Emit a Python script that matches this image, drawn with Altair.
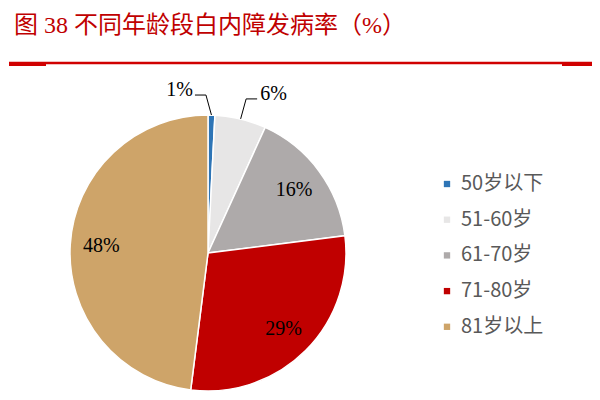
import altair as alt
import pandas as pd

title_text = "图 38 不同年龄段白内障发病率（%）"
categories = ["50岁以下", "51-60岁", "61-70岁", "71-80岁", "81岁以上"]
shares = [0.8, 6.0, 16.2, 29.0, 48.0]
pct_labels = ["1%", "6%", "16%", "29%", "48%"]
colors = ["#2E75B6", "#E7E6E6", "#AEAAAA", "#C00000", "#CEA469"]

W, H = 584, 384
CX, CY = 200, 245
R = 138
SERIF = "Liberation Serif"

df = pd.DataFrame({"cat": categories, "value": shares, "label": pct_labels,
                   "idx": list(range(len(categories)))})
tdf = pd.DataFrame({"t": [title_text]})

base = alt.Chart(df)
theta = alt.Theta("value:Q", stack=True)
order = alt.Order("idx:Q")

arcs = base.mark_arc(outerRadius=R, stroke="white", strokeWidth=1.5).encode(
    theta=theta,
    order=order,
    color=alt.Color(
        "cat:N", sort=categories,
        scale=alt.Scale(domain=categories, range=colors),
        legend=alt.Legend(title=None, orient="none", legendX=429, legendY=166,
                          symbolType="square", symbolSize=40, symbolStrokeWidth=0,
                          labelFont="Noto Sans CJK SC", labelFontSize=20,
                          labelColor="#595959", rowPadding=15.7, padding=0,
                          labelOffset=4),
    ),
    x=alt.value(CX), y=alt.value(CY),
)

inner = base.transform_joinaggregate(total="sum(value)").transform_calculate(
    inner_label="datum.value / datum.total >= 0.1 ? datum.label : ''"
).mark_text(radius=107, font=SERIF, fontSize=20, color="black").encode(
    theta=theta, order=order, text="inner_label:N",
    x=alt.value(CX), y=alt.value(CY),
)

geo = (base.transform_joinaggregate(total="sum(value)")
       .transform_window(cum="sum(value)", sort=[alt.SortField("idx")], frame=[None, 0])
       .transform_calculate(mid="(datum.cum - datum.value / 2) / datum.total * 2 * PI")
       .transform_filter("datum.value / datum.total < 0.1")
       .transform_calculate(side="datum.mid < 0.1 ? -1 : 1")
       .transform_calculate(ax=f"{R} * sin(datum.mid)")
       .transform_calculate(ay=f"{R} * cos(datum.mid)")
       .transform_calculate(ex="datum.ax + datum.side * 5.5")
       .transform_calculate(ey="datum.ay + 20")
       .transform_calculate(lx="datum.ex + datum.side * 11"))

xs = alt.Scale(domain=[-CX, W - CX], nice=False, zero=False)
ys = alt.Scale(domain=[CY - H, CY], nice=False, zero=False)

seg1 = geo.mark_rule(color="black", strokeWidth=1).encode(
    x=alt.X("ax:Q", scale=xs, axis=None), y=alt.Y("ay:Q", scale=ys, axis=None),
    x2="ex:Q", y2="ey:Q")
seg2 = geo.mark_rule(color="black", strokeWidth=1).encode(
    x=alt.X("ex:Q", scale=xs, axis=None), y=alt.Y("ey:Q", scale=ys, axis=None),
    x2="lx:Q", y2="ey:Q")

txt_left = geo.transform_filter("datum.side < 0").mark_text(
    align="right", baseline="middle", dx=-2, dy=-5, font=SERIF, fontSize=20, color="black"
).encode(x=alt.X("lx:Q", scale=xs, axis=None), y=alt.Y("ey:Q", scale=ys, axis=None),
         text="label:N")
txt_right = geo.transform_filter("datum.side > 0").mark_text(
    align="left", baseline="middle", dx=3, dy=-5, font=SERIF, fontSize=20, color="black"
).encode(x=alt.X("lx:Q", scale=xs, axis=None), y=alt.Y("ey:Q", scale=ys, axis=None),
         text="label:N")

title = alt.Chart(tdf).mark_text(
    align="left", baseline="alphabetic", font="Liberation Serif, Noto Sans CJK SC",
    fontSize=24, color="#C00000"
).encode(text="t:N", x=alt.value(6), y=alt.value(25))

line_thin = alt.Chart(tdf).mark_rule(color="#D00000", strokeWidth=2.5).encode(
    x=alt.value(1), x2=alt.value(588), y=alt.value(55))
line_l = alt.Chart(tdf).mark_rule(color="#D00000", strokeWidth=4).encode(
    x=alt.value(1), x2=alt.value(38), y=alt.value(56))
line_r = alt.Chart(tdf).mark_rule(color="#D00000", strokeWidth=4).encode(
    x=alt.value(554), x2=alt.value(588), y=alt.value(56))

chart = alt.layer(
    arcs, inner, seg1, seg2, txt_left, txt_right, title, line_thin, line_l, line_r
).properties(width=W, height=H, autosize="none", padding=0).configure_view(stroke=None)

chart.save("out.html", embed_options={"renderer": "svg", "actions": False})
